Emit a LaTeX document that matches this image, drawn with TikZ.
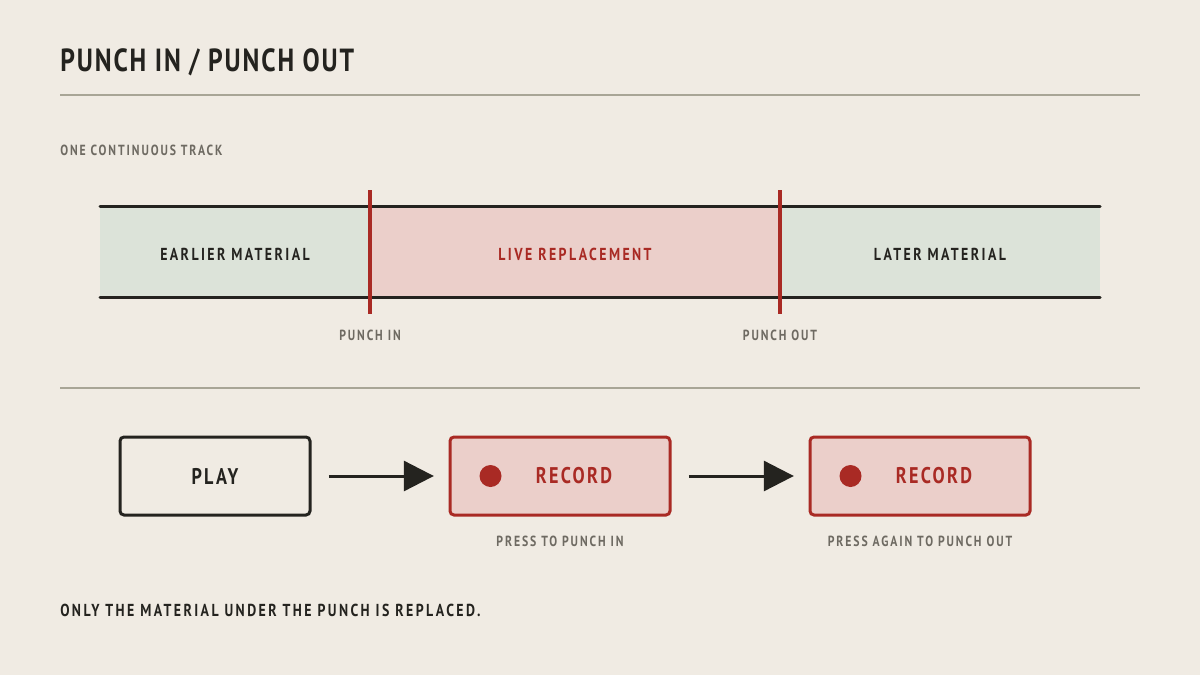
\documentclass[tikz,border=0pt]{standalone}
\usepackage{fontspec}
\usepackage{xcolor}
\usepackage{tikz}
\usetikzlibrary{positioning}
\usetikzlibrary{calc,arrows.meta}

\setmainfont{PT Sans}[FakeStretch=0.8, LetterSpace=6]
\newfontfamily\labelfont{PT Sans}[FakeStretch=0.8, LetterSpace=13]
\newfontfamily\trackfont{PT Sans}[FakeStretch=0.8, LetterSpace=14]
\newfontfamily\buttonfont{PT Sans}[FakeStretch=0.8, LetterSpace=10]

\definecolor{paper}{HTML}{F0EBE3}
\definecolor{ink}{HTML}{24231F}
\definecolor{rulegray}{HTML}{A8A596}
\definecolor{labelgray}{HTML}{6E6A62}
\definecolor{trackgreen}{HTML}{DCE3D9}
\definecolor{trackpink}{HTML}{EBCFCA}
\definecolor{punchred}{HTML}{A92A24}

\begin{document}
\begin{tikzpicture}[x=0.75pt, y=-0.75pt, font=\bfseries]
    % Canvas
    \fill[paper] (0,0) rectangle (1200,675);
    \useasboundingbox (0,0) rectangle (1200,675);

    % Styles for the picture
    \tikzset{
        rule/.style={draw=rulegray, line width=1.5pt},
        trackline/.style={draw=ink, line width=2.25pt, line cap=round},
        punchline/.style={draw=punchred, line width=3pt},
        small label/.style={text=labelgray, font=\labelfont\fontsize{11}{13}\selectfont\bfseries, inner sep=0},
        track label/.style={text=ink, font=\trackfont\fontsize{13}{15}\selectfont\bfseries, inner sep=0},
        play box/.style={draw=ink, line width=2.25pt, rounded corners=3pt, minimum width=190*0.75pt, minimum height=78*0.75pt, text=ink, font=\buttonfont\fontsize{17}{20}\selectfont\bfseries},
        rec box/.style={draw=punchred, fill=trackpink, line width=2.25pt, rounded corners=3pt, minimum width=220*0.75pt, minimum height=78*0.75pt},
        rec dot/.style={circle, fill=punchred, minimum size=22*0.75pt, inner sep=0},
        rec label/.style={text=punchred, font=\buttonfont\fontsize{17}{20}\selectfont\bfseries, inner sep=0},
        large arrow/.style={draw=ink, line width=2.25pt, -{Triangle[length=22.5pt, width=22.5pt]}, shorten <=13pt, shorten >=11pt}
    }

    % Title and rule
    \node[anchor=base west, inner sep=0, text=ink, font=\fontsize{24}{28}\selectfont\bfseries] (title) at (60,71) {PUNCH IN / PUNCH OUT};
    \draw[rule] (60,95) -- (1140,95);

    % The track
    \node[small label, anchor=base west] (tracktitle) at (60,155) {ONE CONTINUOUS TRACK};
    \fill[trackgreen] (100,206) rectangle (370,297);
    \fill[trackpink] (370,206) rectangle (780,297);
    \fill[trackgreen] (780,206) rectangle (1100,297);
    \draw[trackline] (100,206) -- (1100,206);
    \draw[trackline] (100,297) -- (1100,297);

    \node[track label] (earlier) at (235,254) {EARLIER MATERIAL};
    \node[track label, text=punchred] (live) at (575,254) {LIVE REPLACEMENT};
    \node[track label] (later) at (940,254) {LATER MATERIAL};

    % Punch points
    \foreach \x/\name/\txt in {370/in/PUNCH IN, 780/out/PUNCH OUT} {
        \coordinate (\name top) at (\x,190);
        \coordinate (\name bot) at (\x,314);
        \draw[punchline] (\name top) -- (\name bot);
        \node[small label] (\name label) at (\x,335) {\txt};
    }

    \draw[rule] (60,388) -- (1140,388);

    % Buttons
    \node[play box] (play) at (215,476) {PLAY};
    \node[rec box] (rec1) at (560,476) {};
    \node[rec box] (rec2) at (920,476) {};

    \foreach \b in {rec1, rec2} {
        \node[rec dot] (\b dot) at ($(\b.west)+(42,0)$) {};
        \node[rec label] (\b text) at ($(\b.center)+(14,0)$) {RECORD};
    }

    \draw[large arrow] (play) -- (rec1);
    \draw[large arrow] (rec1) -- (rec2);

    \node[small label] (rec1 note) at ($(rec1.south)+(0,25)$) {PRESS TO PUNCH IN};
    \node[small label] (rec2 note) at ($(rec2.south)+(0,25)$) {PRESS AGAIN TO PUNCH OUT};

    % Footer
    \node[track label, anchor=base west] (footer) at (60,616) {ONLY THE MATERIAL UNDER THE PUNCH IS REPLACED.};
\end{tikzpicture}
\end{document}
